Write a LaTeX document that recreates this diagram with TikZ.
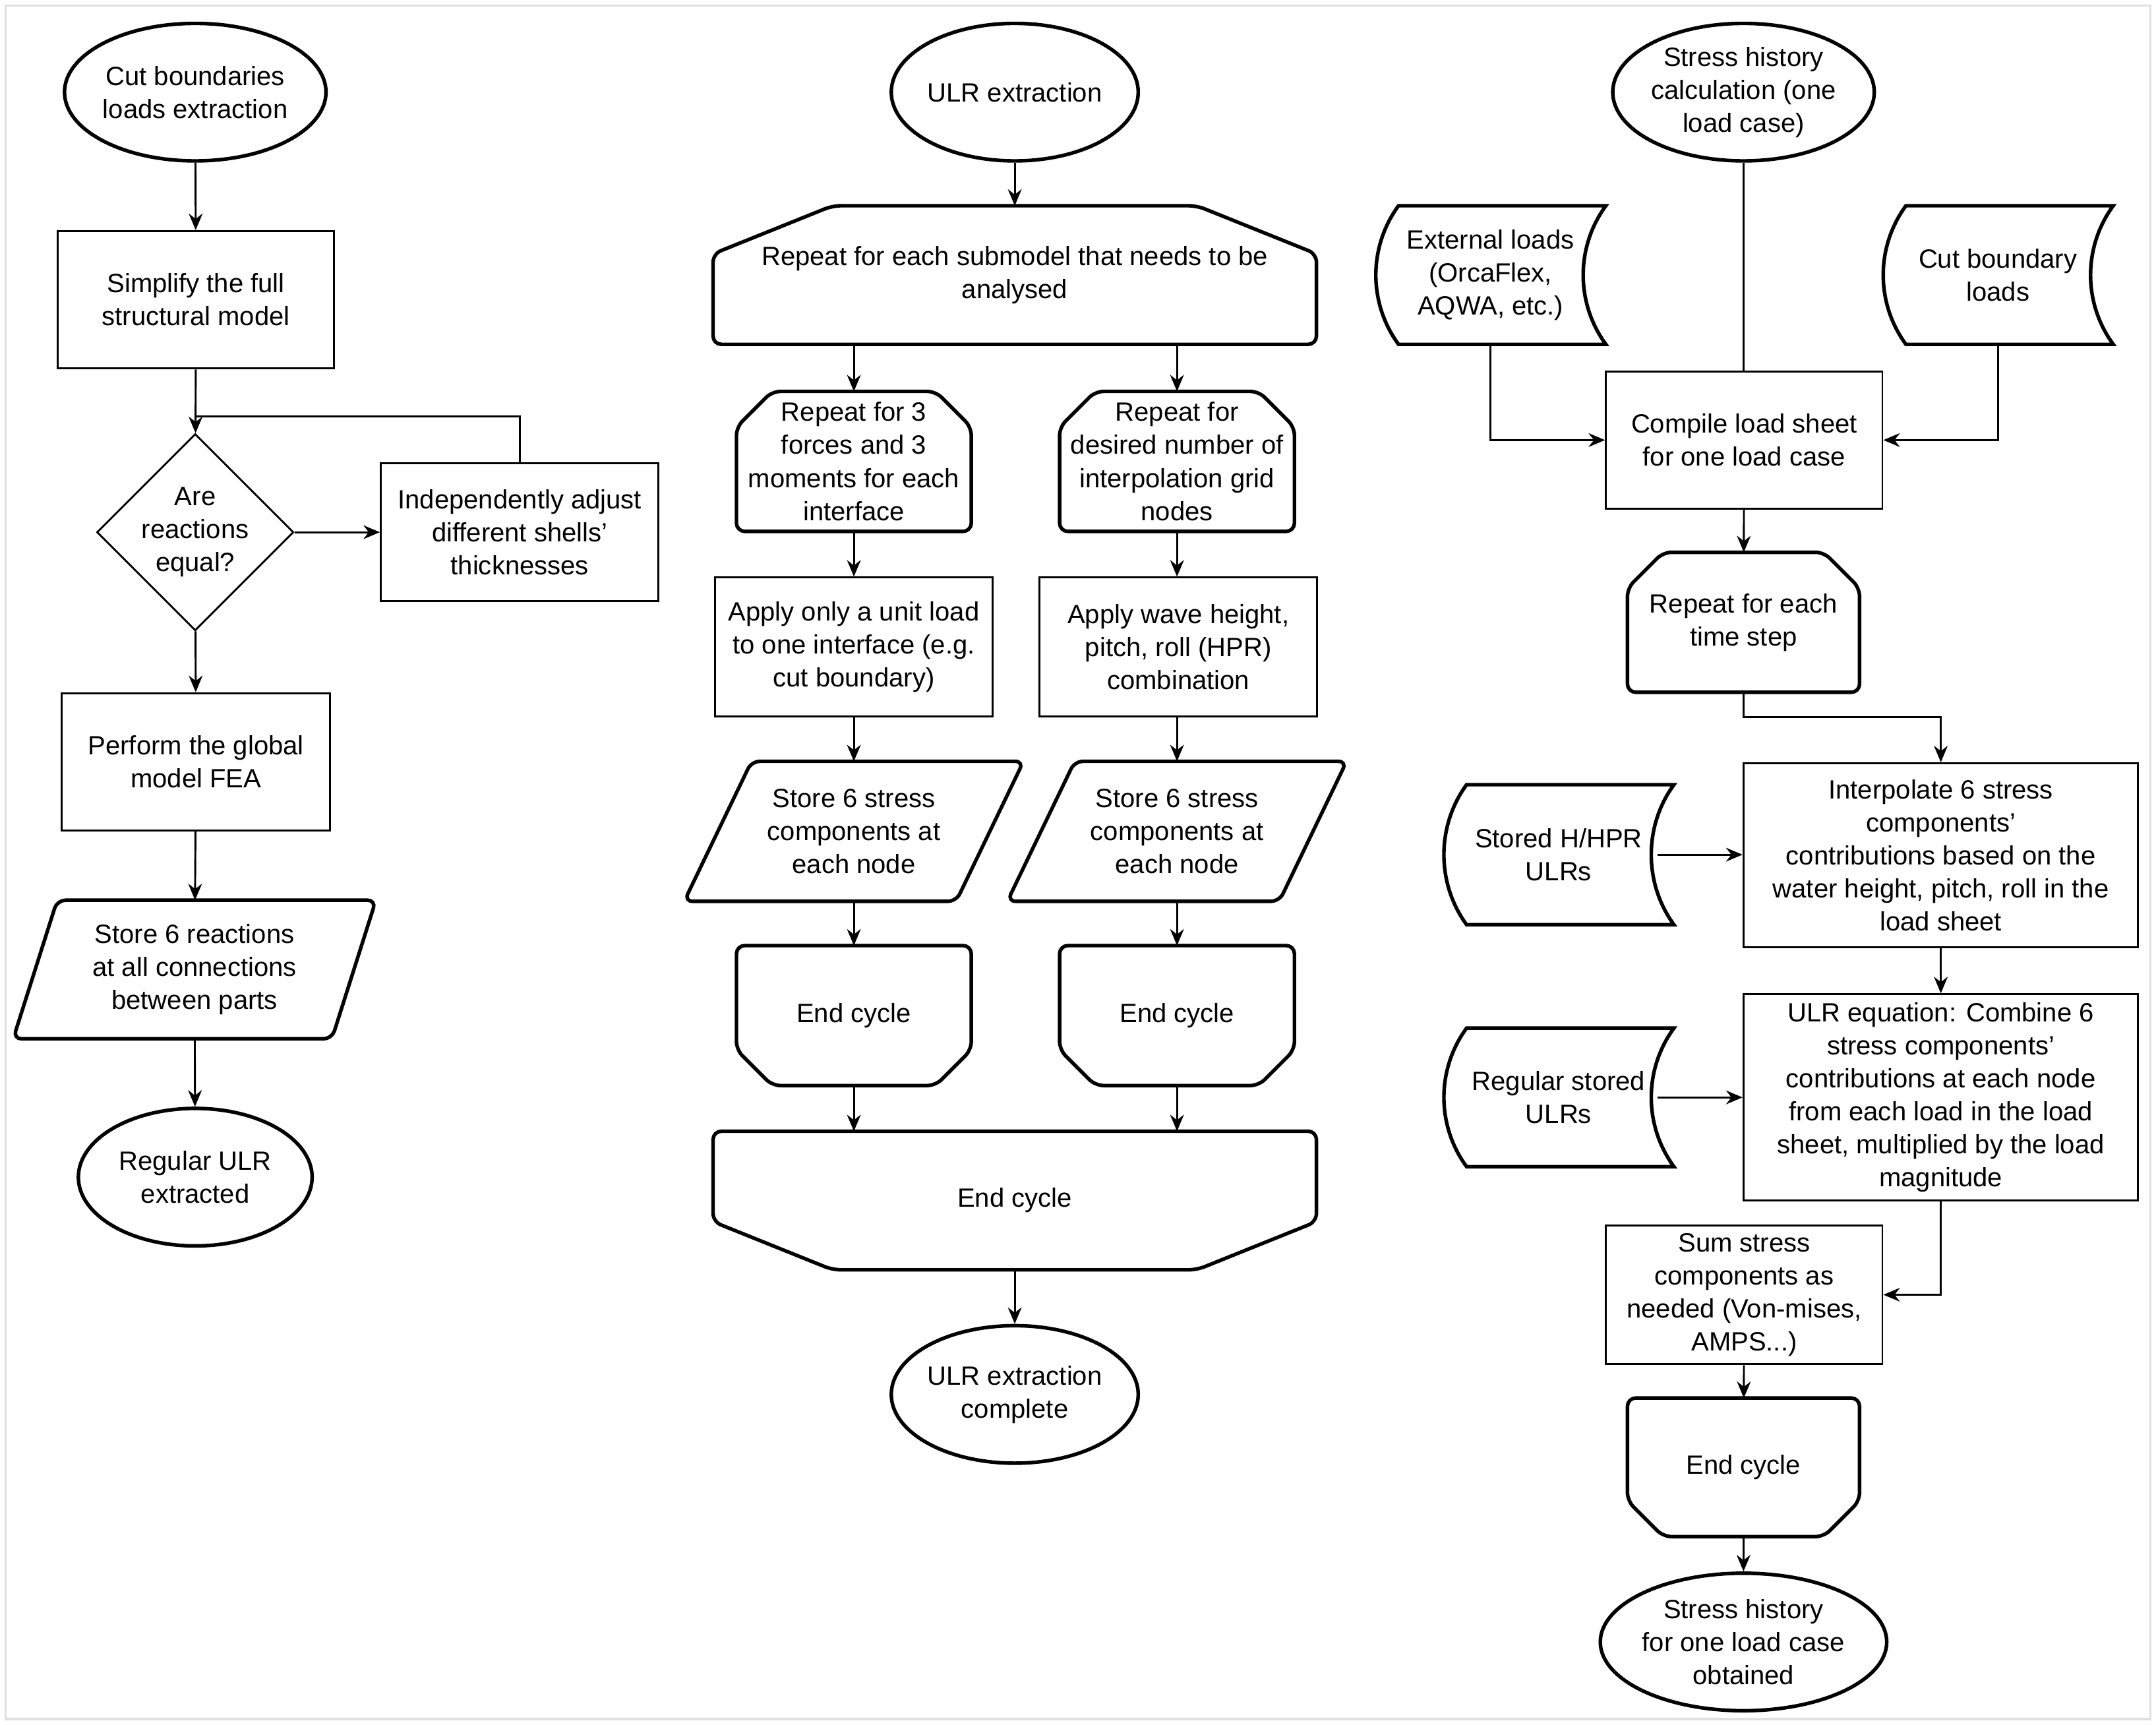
\documentclass[tikz,border=0pt]{standalone}
\usepackage{fontspec}
\setmainfont{Liberation Sans}
\usetikzlibrary{shapes.geometric,arrows.meta,calc}
\newcommand\fs{\fontsize{9.6}{12}\selectfont}
\tikzset{
 base/.style={font=\fs, align=center, inner sep=0pt},
 term/.style={base, ellipse, draw, line width=1.3pt, minimum width=83pt, minimum height=50pt},
 proc/.style={base, rectangle, draw, line width=0.7pt},
 ghost/.style={base, rectangle, draw=none},
 shp/.style={line width=1.3pt, rounded corners=3pt},
 ln/.style={line width=0.7pt},
 arr/.style={line width=0.7pt, -{Stealth[length=6pt,width=5pt]}},
}
\newcommand\LoopTop[3]{\draw[shp] ($(#1.north west)+(#2,0)$) -- ($(#1.north east)+(-#2,0)$) -- ($(#1.north east)+(0,#3)$) -- (#1.south east) -- (#1.south west) -- ($(#1.north west)+(0,#3)$) -- cycle;}
\newcommand\LoopBot[3]{\draw[shp] (#1.north west) -- (#1.north east) -- ($(#1.south east)+(0,-#3)$) -- ($(#1.south east)+(-#2,0)$) -- ($(#1.south west)+(#2,0)$) -- ($(#1.south west)+(0,-#3)$) -- cycle;}
\newcommand\Para[2]{\draw[shp] ($(#1.north west)+(#2,0)$) -- (#1.north east) -- ($(#1.south east)+(-#2,0)$) -- (#1.south west) -- cycle;}
\newcommand\Stored[1]{\draw[line width=1.3pt] ($(#1.north west)+(17,0)$) -- (#1.north east) .. controls +(-22,30) and +(-22,-30) .. (#1.south east) -- ($(#1.south west)+(17,0)$) .. controls +(-22,-30) and +(-22,30) .. ($(#1.north west)+(17,0)$) -- cycle;}
\begin{document}
\begin{tikzpicture}[x=0.5pt,y=-0.5pt]
\useasboundingbox (0,0) rectangle (1568,1254);
\draw[black!12, line width=0.8pt] (4,4) rectangle (1564,1250);
% left
\node[term] (c1) at (142,67) {Cut boundaries\\loads extraction};
\node[proc, minimum width=100.5pt, minimum height=50pt] (s1) at (142.5,218) {Simplify the full\\structural model};
\node[base, diamond, draw, line width=0.7pt, aspect=1, minimum width=67pt, minimum height=67pt] (d1) at (142,387) {Are\\reactions\\equal?};
\node[proc, minimum width=101pt, minimum height=50pt] (a1) at (378,387) {Independently adjust\\different shells'\\thicknesses};
\node[proc, minimum width=97.5pt, minimum height=50pt] (f1) at (142.5,554) {Perform the global\\model FEA};
\node[ghost, minimum width=131.5pt, minimum height=50pt] (p1) at (141.5,705) {Store 6 reactions\\at all connections\\between parts};
\Para{p1}{32}
\node[term, minimum width=85pt] (e1) at (142,856) {Regular ULR\\extracted};
\draw[arr] (c1) -- (s1);
\draw[arr] (s1) -- (d1);
\draw[arr] (d1) -- (a1);
\draw[ln] (a1.north) |- (142,303);
\draw[arr] (d1) -- (f1);
\draw[arr] (f1) -- (p1);
\draw[arr] (p1) -- (e1);
% middle
\node[term] (m0) at (738,67) {ULR extraction};
\node[ghost, minimum width=219pt, minimum height=50pt] (m1) at (738,200) {Repeat for each submodel that needs to be\\analysed};
\LoopTop{m1}{87}{35}
\node[ghost, minimum width=85pt, minimum height=50.5pt] (m2) at (621,335.5) {Repeat for 3\\forces and 3\\moments for each\\interface};
\LoopTop{m2}{26}{26}
\node[ghost, minimum width=85pt, minimum height=50.5pt] (m3) at (856,335.5) {Repeat for\\desired number of\\interpolation grid\\nodes};
\LoopTop{m3}{26}{26}
\node[proc, minimum width=101pt, minimum height=50.5pt] (m4) at (621,470.5) {Apply only a unit load\\to one interface (e.g.\\cut boundary)};
\node[proc, minimum width=101pt, minimum height=50.5pt] (m5) at (857,470.5) {Apply wave height,\\pitch, roll (HPR)\\combination};
\node[ghost, minimum width=123pt, minimum height=50.5pt] (m6) at (621,604.5) {Store 6 stress\\components at\\each node};
\Para{m6}{49}
\node[ghost, minimum width=123pt, minimum height=50.5pt] (m7) at (856,604.5) {Store 6 stress\\components at\\each node};
\Para{m7}{49}
\node[ghost, minimum width=85pt, minimum height=50.5pt] (m8) at (621,738.5) {End cycle};
\LoopBot{m8}{26}{26}
\node[ghost, minimum width=85pt, minimum height=50.5pt] (m9) at (856,738.5) {End cycle};
\LoopBot{m9}{26}{26}
\node[ghost, minimum width=219pt, minimum height=50pt] (m10) at (738,873) {End cycle};
\LoopBot{m10}{87}{35}
\node[term] (m11) at (738,1014) {ULR extraction\\complete};
\draw[arr] (m0) -- (m1);
\draw[arr] (m1.south -| m2) -- (m2.north);
\draw[arr] (m1.south -| m3) -- (m3.north);
\draw[arr] (m2) -- (m4);
\draw[arr] (m3) -- (m3 |- m5.north);
\draw[arr] (m4) -- (m6);
\draw[arr] (m5.south -| m7) -- (m7);
\draw[arr] (m6) -- (m8);
\draw[arr] (m7) -- (m9);
\draw[arr] (m8.south) -- (m8.south |- m10.north);
\draw[arr] (m9.south) -- (m9.south |- m10.north);
\draw[arr] (m10) -- (m11);
% right
\node[term, minimum width=83.5pt] (r0) at (1268,67) {Stress history\\calculation (one\\load case)};
\node[ghost, minimum width=83.5pt, minimum height=50pt] (r1) at (1084,200) {External loads\\(OrcaFlex,\\AQWA, etc.)};
\Stored{r1}
\node[ghost, minimum width=83.5pt, minimum height=50pt] (r2) at (1453,200) {Cut boundary\\loads};
\Stored{r2}
\node[proc, minimum width=100.5pt, minimum height=50pt] (r3) at (1268.5,320) {Compile load sheet\\for one load case};
\node[ghost, minimum width=84pt, minimum height=50.5pt] (r4) at (1268,452.5) {Repeat for each\\time step};
\LoopTop{r4}{26}{26}
\node[proc, minimum width=143.5pt, minimum height=67pt] (r5) at (1411.5,622) {Interpolate 6 stress\\components'\\contributions based on the\\water height, pitch, roll in the\\load sheet};
\node[ghost, minimum width=83.5pt, minimum height=50.5pt] (r6) at (1133.5,621.5) {Stored H/HPR\\ULRs};
\Stored{r6}
\node[proc, minimum width=143.5pt, minimum height=75pt] (r7) at (1411.5,798) {ULR equation: Combine 6\\stress components'\\contributions at each node\\from each load in the load\\sheet, multiplied by the load\\magnitude};
\node[ghost, minimum width=83.5pt, minimum height=50pt] (r8) at (1133.5,798) {Regular stored\\ULRs};
\Stored{r8}
\node[proc, minimum width=100.5pt, minimum height=50.5pt] (r9) at (1268.5,941.5) {Sum stress\\components as\\needed (Von-mises,\\AMPS...)};
\node[ghost, minimum width=84pt, minimum height=50pt] (r10) at (1268,1067) {End cycle};
\LoopBot{r10}{26}{26}
\node[term, minimum width=83.5pt] (r11) at (1268,1194) {Stress history\\for one load case\\obtained};
\draw[ln] (r0.south) -- (r0.south |- r3.north);
\draw[arr] (r1.south) |- (r3.west);
\draw[arr] (r2.south) |- (r3.east);
\draw[arr] (r3) -- (r4);
\draw[arr] (r4.south) -- ++(0,18) -| (r5.north);
\draw[arr] ($(r6.east)+(-12,0)$) -- (r5.west |- r6);
\draw[arr] (r5) -- (r7);
\draw[arr] ($(r8.east)+(-12,0)$) -- (r7.west |- r8);
\draw[arr] (r7.south) |- (r9.east);
\draw[arr] (r9) -- (r10);
\draw[arr] (r10) -- (r11);
\end{tikzpicture}
\end{document}
